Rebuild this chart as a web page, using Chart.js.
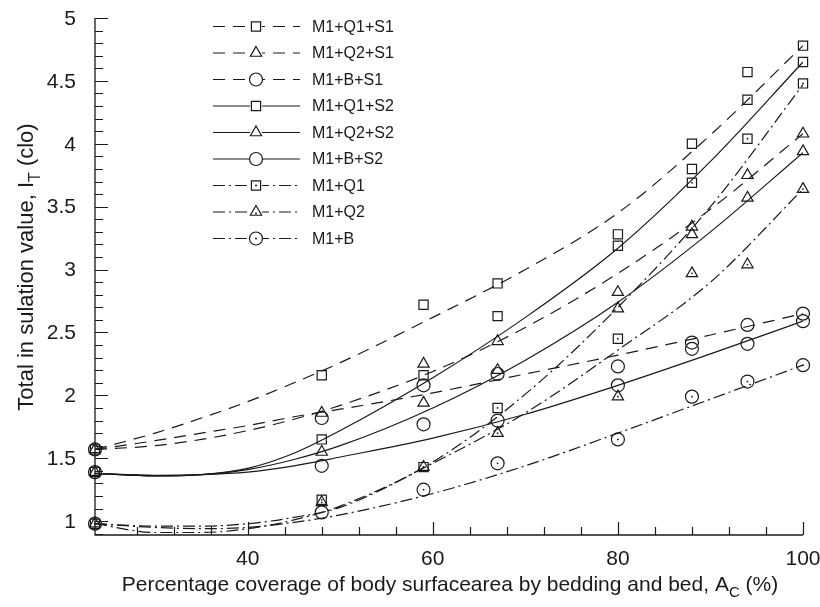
<!DOCTYPE html>
<html><head><meta charset="utf-8">
<script src="https://cdn.jsdelivr.net/npm/chart.js@4.4.1/dist/chart.umd.min.js"></script>
<style>html,body{margin:0;padding:0;background:#fff;}#wrap{position:relative;width:820px;height:607px;}</style>
</head><body><div id="wrap"><canvas id="c" width="820" height="607"></canvas></div>
<script>
// ---------- data ----------
const seriesNames = ['M1+Q1+S1','M1+Q2+S1','M1+B+S1','M1+Q1+S2','M1+Q2+S2','M1+B+S2','M1+Q1','M1+Q2','M1+B'];
const xData = [23.5, 48, 59, 67, 80, 88, 94, 100];
const yQ1S1 = [1.57, 2.16, 2.72, 2.89, 3.28, 4.00, 4.57, 4.78];
const yQ2S1 = [1.57, 1.86, 2.25, 2.43, 2.82, 3.34, 3.75, 4.08];
const yBS1  = [1.57, 1.82, 2.08, 2.17, 2.23, 2.42, 2.56, 2.65];
const yQ1S2 = [1.39, 1.65, 2.16, 2.63, 3.19, 3.80, 4.35, 4.65];
const yQ2S2 = [1.39, 1.55, 1.94, 2.20, 2.69, 3.28, 3.57, 3.94];
const yBS2  = [1.39, 1.44, 1.77, 1.80, 2.08, 2.37, 2.41, 2.59];
const yQ1   = [0.98, 1.17, 1.43, 1.90, 2.45, 3.69, 4.04, 4.48];
const yQ2   = [0.98, 1.15, 1.43, 1.70, 1.99, 2.97, 3.04, 3.64];
const yB    = [0.98, 1.07, 1.25, 1.46, 1.65, 1.99, 2.11, 2.24];
// fitted curves
const xFit = [23.5, 30, 35, 40, 45, 50, 60, 70, 80, 90, 100];
const fitQ1S1 = [1.57, 1.70, 1.82, 1.95, 2.10, 2.26, 2.62, 3.00, 3.45, 4.07, 4.78];
const fitQ2S1 = [1.57, 1.60, 1.65, 1.72, 1.81, 1.92, 2.19, 2.54, 2.97, 3.48, 4.08];
const fitBS1  = [1.57, 1.64, 1.70, 1.76, 1.83, 1.89, 2.02, 2.17, 2.32, 2.48, 2.65];
const fitQ1S2 = [1.38, 1.36, 1.37, 1.42, 1.54, 1.72, 2.14, 2.62, 3.17, 3.86, 4.65];
const fitQ2S2 = [1.38, 1.36, 1.37, 1.41, 1.49, 1.60, 1.90, 2.28, 2.74, 3.30, 3.93];
const fitBS2  = [1.38, 1.365, 1.37, 1.39, 1.44, 1.51, 1.66, 1.85, 2.08, 2.33, 2.59];
const fitQ1   = [0.98, 0.91, 0.91, 0.94, 1.01, 1.12, 1.47, 2.01, 2.70, 3.50, 4.47];
const fitQ2   = [0.98, 0.96, 0.96, 0.98, 1.03, 1.11, 1.46, 1.86, 2.36, 2.90, 3.64];
const fitB    = [0.98, 0.95, 0.94, 0.95, 0.99, 1.05, 1.22, 1.44, 1.70, 1.97, 2.24];
const xTicks = [40, 60, 80, 100];
const yTicks = [1, 1.5, 2, 2.5, 3, 3.5, 4, 4.5, 5];
const xTitle = ['Percentage coverage of body surfacearea by bedding and bed, A', 'C', ' (%)'];
const yTitle = ['Total in sulation value, I', 'T', ' (clo)'];

// ---------- styles ----------
const INK = '#1a1a1a';
const FONT = '"Liberation Sans", Arial, sans-serif';
const DASH = [12, 8];
const DASHDOT = [12, 4, 2, 4];
const styles = [
  {dash: DASH, pt: 'rect'}, {dash: DASH, pt: 'triangle'}, {dash: DASH, pt: 'circle'},
  {dash: [], pt: 'rect'}, {dash: [], pt: 'triangle'}, {dash: [], pt: 'circle'},
  {dash: DASHDOT, pt: 'rect', dot: true}, {dash: DASHDOT, pt: 'triangle', dot: true}, {dash: DASHDOT, pt: 'circle', dot: true}
];
const pointSets = [yQ1S1, yQ2S1, yBS1, yQ1S2, yQ2S2, yBS2, yQ1, yQ2, yB];
const fitSets = [fitQ1S1, fitQ2S1, fitBS1, fitQ1S2, fitQ2S2, fitBS2, fitQ1, fitQ2, fitB];

const toXY = (xs, ys) => xs.map((v, i) => ({x: v, y: ys[i]}));
const datasets = [];
fitSets.forEach((f, i) => datasets.push({
  label: seriesNames[i] + ' fit', data: toXY(xFit, f), showLine: true, pointRadius: 0,
  borderColor: INK, borderWidth: 1.2, borderDash: styles[i].dash, cubicInterpolationMode: 'monotone', fill: false
}));
pointSets.forEach((p, i) => {
  datasets.push({
    label: seriesNames[i], data: toXY(xData, p), showLine: false, pointStyle: styles[i].pt,
    pointRadius: 6.5, pointBorderWidth: 1.2, pointBorderColor: INK, pointBackgroundColor: 'rgba(0,0,0,0)', clip: false
  });
  if (styles[i].dot) datasets.push({
    label: seriesNames[i] + ' dot', data: toXY(xData, p), showLine: false, pointStyle: 'circle',
    pointRadius: 0.9, pointBorderWidth: 0, pointBackgroundColor: INK, clip: false
  });
});

function drawSubText(ctx, parts, cx, cy, size) {
  const main = size + 'px ' + FONT;
  const sub = Math.round(size * 0.72) + 'px ' + FONT;
  ctx.font = main; const w0 = ctx.measureText(parts[0]).width; const w2 = ctx.measureText(parts[2]).width;
  ctx.font = sub; const w1 = ctx.measureText(parts[1]).width;
  let x = cx - (w0 + w1 + w2) / 2;
  ctx.textBaseline = 'alphabetic'; ctx.textAlign = 'left';
  ctx.font = main; ctx.fillText(parts[0], x, cy); x += w0;
  ctx.font = sub; ctx.fillText(parts[1], x, cy + size * 0.3); x += w1;
  ctx.font = main; ctx.fillText(parts[2], x, cy);
}

const deco = {
  id: 'deco',
  afterDraw(chart) {
    const {ctx, chartArea: a, scales: {x, y}} = chart;
    ctx.save();
    ctx.strokeStyle = INK; ctx.lineWidth = 1.3; ctx.setLineDash([]);
    const top = y.getPixelForValue(5), right = x.getPixelForValue(100);
    ctx.beginPath(); ctx.moveTo(a.left, top); ctx.lineTo(a.left, a.bottom); ctx.lineTo(right, a.bottom); ctx.stroke();
    ctx.lineWidth = 1.2;
    ctx.beginPath();
    for (let k = 9; k <= 50; k++) {
      const py = Math.round(y.getPixelForValue(k / 10)) + 0.5;
      const len = k % 5 === 0 ? 13 : 8;
      ctx.moveTo(a.left, py); ctx.lineTo(a.left + len, py);
    }
    for (let k = 28; k <= 100; k += 4) {
      const px = Math.round(x.getPixelForValue(k)) + 0.5;
      const len = k % 20 === 0 ? 13 : 8;
      ctx.moveTo(px, a.bottom); ctx.lineTo(px, a.bottom - len);
    }
    ctx.stroke();
    // tick labels
    ctx.fillStyle = INK; ctx.font = '21px ' + FONT;
    ctx.textAlign = 'right'; ctx.textBaseline = 'middle';
    yTicks.forEach(v => ctx.fillText(String(v), 76, y.getPixelForValue(v) + 1));
    ctx.textAlign = 'center';
    xTicks.forEach(v => ctx.fillText(String(v), x.getPixelForValue(v), 559));
    // titles
    drawSubText(ctx, xTitle, (a.left + right) / 2 + 1, 591, 21);
    ctx.save(); ctx.translate(33, 267); ctx.rotate(-Math.PI / 2);
    drawSubText(ctx, yTitle, 0, 0, 22); ctx.restore();
    // legend
    const lx0 = 213, lx1 = 300, mx = 256, tx = 312;
    seriesNames.forEach((n, i) => {
      const ly = 26.5 + i * 26.5;
      ctx.setLineDash(styles[i].dash); ctx.lineWidth = 1.2; ctx.strokeStyle = INK;
      ctx.beginPath(); ctx.moveTo(lx0, ly); ctx.lineTo(lx1, ly); ctx.stroke();
      ctx.setLineDash([]);
      ctx.fillStyle = '#fff';
      ctx.beginPath(); ctx.arc(mx, ly, 6, 0, Math.PI * 2); ctx.fill();
      ctx.fillStyle = 'rgba(0,0,0,0)';
      Chart.helpers.drawPoint(ctx, {pointStyle: styles[i].pt, radius: 6.5, rotation: 0, borderWidth: 1.2}, mx, ly);
      if (styles[i].dot) { ctx.fillStyle = INK; ctx.beginPath(); ctx.arc(mx, ly + (styles[i].pt === 'triangle' ? 1.5 : 0), 1, 0, Math.PI * 2); ctx.fill(); }
      ctx.fillStyle = INK; ctx.font = '16px ' + FONT;
      ctx.textAlign = 'left'; ctx.textBaseline = 'middle';
      ctx.fillText(n, tx, ly + 1);
    });
    ctx.restore();
  }
};

new Chart(document.getElementById('c'), {
  type: 'scatter',
  data: {datasets},
  options: {
    responsive: false, devicePixelRatio: 1, animation: false,
    layout: {padding: {top: 18, right: 17, left: 0, bottom: 0}},
    plugins: {legend: {display: false}, tooltip: {enabled: false}},
    scales: {
      x: {
        type: 'linear', min: 23.5, max: 100,
        grid: {display: false, drawTicks: false}, border: {display: false},
        afterBuildTicks: s => { s.ticks = xTicks.map(v => ({value: v})); },
        afterFit: s => { s.height = 72; },
        ticks: {display: false}
      },
      y: {
        type: 'linear', min: 0.89, max: 5,
        grid: {display: false, drawTicks: false}, border: {display: false},
        afterBuildTicks: s => { s.ticks = yTicks.map(v => ({value: v})); },
        afterFit: s => { s.width = 95; },
        ticks: {display: false}
      }
    }
  },
  plugins: [deco]
});
</script></body></html>
